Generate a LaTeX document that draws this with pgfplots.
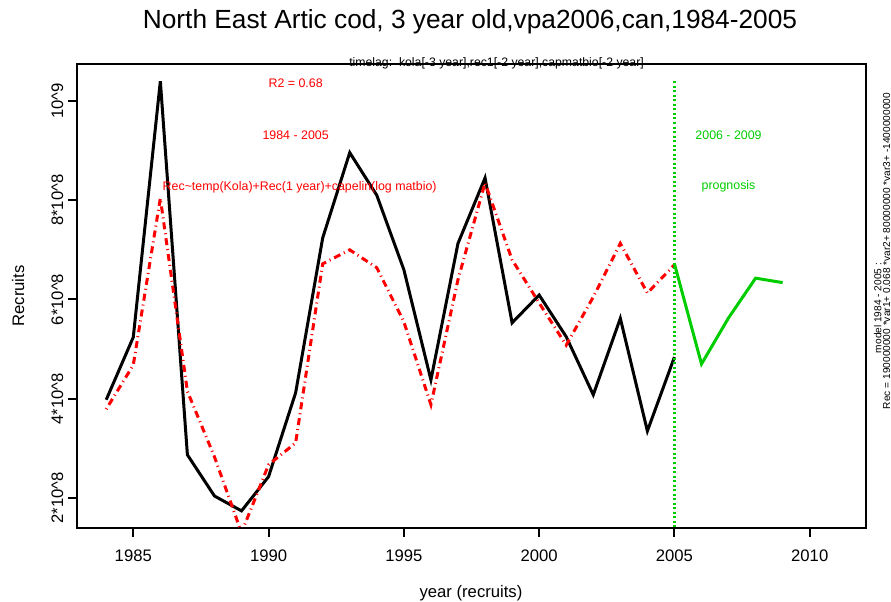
\documentclass[border=0pt]{standalone}
\usepackage{fontspec}
\setmainfont{Liberation Sans}
\usepackage{pgfplots}
\pgfplotsset{compat=1.18}
\definecolor{rred}{RGB}{255,0,0}
\definecolor{rgreen}{RGB}{0,205,0}
\begin{document}
\begin{tikzpicture}
\useasboundingbox (0,0) rectangle (668.25pt,451.5pt);
\begin{axis}[
  at={(57.75pt,55.5pt)}, anchor=south west,
  scale only axis, width=591.75pt, height=348pt,
  xmin=1982.92, xmax=2012.08, ymin=1.395, ymax=10.746,
  axis line style={line width=1.5pt},
  every tick/.style={line width=1.5pt, black},
  tick align=outside, major tick length=6.75pt,
  tick pos=left,
  xtick={1985,1990,1995,2000,2005,2010},
  xticklabels={1985,1990,1995,2000,2005,2010},
  ytick={2,4,6,8,10},
  yticklabels={2*10\textasciicircum 8,4*10\textasciicircum 8,6*10\textasciicircum 8,8*10\textasciicircum 8,10\textasciicircum 9},
  xticklabel style={font=\fontsize{12.5}{15}\selectfont, yshift=-6pt},
  yticklabel style={font=\fontsize{12.5}{15}\selectfont, rotate=90, anchor=south},
  /pgf/number format/assume math mode=true,
]
% observed recruits
\addplot[black, line width=2.25pt, line join=miter, miter limit=10] coordinates {
(1984,3.98) (1985,5.24) (1986,10.40) (1987,2.87) (1988,2.04) (1989,1.74)
(1990,2.43) (1991,4.12) (1992,7.24) (1993,8.96) (1994,8.10) (1995,6.60)
(1996,4.38) (1997,7.13) (1998,8.45) (1999,5.53) (2000,6.09) (2001,5.25)
(2002,4.08) (2003,5.62) (2004,3.35) (2005,4.84)};
% model fit
\addplot[rred, line width=2.25pt, dash pattern=on 0.75pt off 3pt on 5.25pt off 3pt] coordinates {
(1984,3.79) (1985,4.68) (1986,8.04) (1987,4.15) (1988,2.83) (1989,1.30)
(1990,2.67) (1991,3.11) (1992,6.72) (1993,7.00) (1994,6.64) (1995,5.55)
(1996,3.88) (1997,6.40) (1998,8.35) (1999,6.80) (2000,5.93) (2001,5.08)
(2002,6.05) (2003,7.13) (2004,6.13) (2005,6.70)};
% prognosis
\addplot[rgreen, line width=2.25pt] coordinates {
(2005,6.72) (2006,4.70) (2007,5.63) (2008,6.43) (2009,6.34)};
% separator
\addplot[rgreen, line width=1.9pt, dash pattern=on 1.5pt off 1.9pt] coordinates {(2005,10.40) (2005,1.395)};
\node[text=rred, font=\fontsize{9.3}{11}\selectfont, anchor=base, inner sep=0pt] at (axis cs:1991,10.27) {R2 = 0.68};
\node[text=rred, font=\fontsize{9.3}{11}\selectfont, anchor=base, inner sep=0pt] at (axis cs:1991,9.22) {1984 - 2005};
\node[text=rred, font=\fontsize{9.3}{11}\selectfont, anchor=base, inner sep=0pt] at (axis cs:1991.15,8.19) {Rec\textasciitilde temp(Kola)+Rec(1 year)+capelin(log matbio)};
\node[text=rgreen, font=\fontsize{9.3}{11}\selectfont, anchor=base, inner sep=0pt] at (axis cs:2007,9.22) {2006 - 2009};
\node[text=rgreen, font=\fontsize{9.3}{11}\selectfont, anchor=base, inner sep=0pt] at (axis cs:2007,8.21) {prognosis};
\end{axis}
\node[anchor=base, inner sep=0pt, font=\fontsize{19.7}{23}\selectfont] at (352.5pt,429.75pt) {North East Artic cod, 3 year old,vpa2006,can,1984-2005};
\node[anchor=base, inner sep=0pt, font=\fontsize{9.2}{11}\selectfont] at (372.4pt,401.25pt) {timelag:\ \ kola[-3 year],rec1[-2 year],capmatbio[-2 year]};
\node[anchor=base, inner sep=0pt, font=\fontsize{12.5}{15}\selectfont] at (353.25pt,3pt) {year (recruits)};
\node[anchor=base, rotate=90, inner sep=0pt, font=\fontsize{12.5}{15}\selectfont] at (18pt,229.5pt) {Recruits};
\node[anchor=base, rotate=90, inner sep=0pt, font=\fontsize{7.6}{9}\selectfont] at (661pt,220.5pt) {model 1984 - 2005 :};
\node[anchor=base, rotate=90, inner sep=0pt, font=\fontsize{7.6}{9}\selectfont] at (667.5pt,263.25pt) {Rec = 190000000 *var1+ 0.068 *var2+ 80000000 *var3+ -1400000000};
\end{tikzpicture}
\end{document}
